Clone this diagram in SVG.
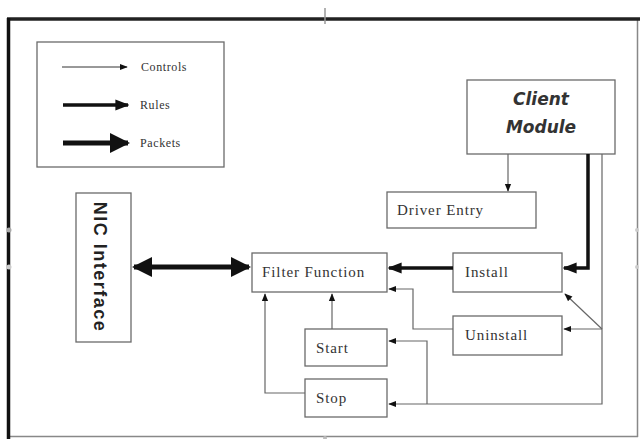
<svg xmlns="http://www.w3.org/2000/svg" width="640" height="439" viewBox="0 0 640 439">
<style>
.box{fill:#fff;stroke:#6a6a6a;stroke-width:1.3}
.t{font-family:"Liberation Serif",serif;font-size:15px;letter-spacing:0.9px;fill:#333}
.lg{font-family:"Liberation Serif",serif;font-size:12px;letter-spacing:0.6px;fill:#333}
.thin{fill:none;stroke:#666;stroke-width:1.2}
.rule{fill:none;stroke:#111;stroke-width:3.5}
.pkt{fill:none;stroke:#111;stroke-width:5}
</style>
<defs>
<marker id="a" viewBox="0 0 10 10" refX="9" refY="5" markerWidth="8" markerHeight="8" markerUnits="userSpaceOnUse" orient="auto"><path d="M0,1 L10,5 L0,9 z" fill="#111"/></marker>
<marker id="ar" viewBox="0 0 10 10" refX="9" refY="5" markerWidth="14" markerHeight="14" markerUnits="userSpaceOnUse" orient="auto"><path d="M0,1 L10,5 L0,9 z" fill="#111"/></marker>
<marker id="ap" viewBox="0 0 10 10" refX="9" refY="5" markerWidth="20" markerHeight="20" markerUnits="userSpaceOnUse" orient="auto-start-reverse"><path d="M0,0 L10,5 L0,10 z" fill="#111"/></marker>
</defs>
<rect width="640" height="439" fill="#fff"/>
<g id="frame">
<line x1="637.5" y1="19" x2="637.5" y2="437" stroke="#888" stroke-width="1.5"/>
<line x1="8" y1="436.5" x2="638" y2="436.5" stroke="#888" stroke-width="1.5"/>
<line x1="7" y1="19" x2="640" y2="19" stroke="#222" stroke-width="3.5"/>
<line x1="8.5" y1="18" x2="8.5" y2="439" stroke="#111" stroke-width="3.5"/>
<line x1="325" y1="8" x2="325" y2="24" stroke="#999" stroke-width="1.5"/>
<circle cx="9" cy="230" r="2.5" fill="#aaa"/>
<circle cx="9" cy="267" r="2.5" fill="#ccc"/>
<circle cx="637" cy="230" r="2" fill="#ccc"/>
<circle cx="637" cy="267" r="2" fill="#ccc"/>
<circle cx="325" cy="438" r="2" fill="#bbb"/>
</g>
<g id="legend">
<rect class="box" x="37" y="42" width="187" height="125"/>
<line x1="62" y1="67" x2="127" y2="67" stroke="#333" stroke-width="1" marker-end="url(#a)"/>
<text class="lg" x="141" y="71">Controls</text>
<line x1="63" y1="105" x2="128" y2="105" class="rule" marker-end="url(#ar)"/>
<text class="lg" x="140" y="109">Rules</text>
<line x1="63" y1="143" x2="128" y2="143" class="pkt" marker-end="url(#ap)"/>
<text class="lg" x="140" y="147">Packets</text>
</g>
<g id="client">
<rect class="box" x="467" y="80" width="148" height="74"/>
<text x="541" y="105" text-anchor="middle" font-family="DejaVu Sans,sans-serif" font-style="italic" font-weight="bold" font-size="17" fill="#333">Client</text>
<text x="541" y="133" text-anchor="middle" font-family="DejaVu Sans,sans-serif" font-style="italic" font-weight="bold" font-size="17" fill="#333">Module</text>
</g>
<g id="driver">
<rect class="box" x="387" y="192" width="149" height="36"/>
<text class="t" x="397" y="215">Driver Entry</text>
</g>
<g id="nic">
<rect class="box" x="76" y="193" width="55" height="149"/>
<text transform="translate(94,267) rotate(90)" text-anchor="middle" font-family="Liberation Sans,sans-serif" font-weight="bold" font-size="18" letter-spacing="1.5" fill="#222">NIC Interface</text>
</g>
<g id="filter">
<rect class="box" x="252" y="253" width="135" height="39"/>
<text class="t" x="262" y="277">Filter Function</text>
</g>
<g id="install">
<rect class="box" x="453" y="253" width="109" height="39"/>
<text class="t" x="465" y="277">Install</text>
</g>
<g id="uninstall">
<rect class="box" x="453" y="316" width="109" height="39"/>
<text class="t" x="465" y="340" fill="#4a2a2a">Uninstall</text>
</g>
<g id="start">
<rect class="box" x="305" y="329" width="82" height="37"/>
<text class="t" x="316" y="353">Start</text>
</g>
<g id="stop">
<rect class="box" x="305" y="379" width="82" height="38"/>
<text class="t" x="316" y="403">Stop</text>
</g>
<g id="connectors">
<line x1="134" y1="267" x2="249" y2="267" class="pkt" marker-start="url(#ap)" marker-end="url(#ap)"/>
<line x1="453" y1="268" x2="389" y2="268" class="rule" marker-end="url(#ar)"/>
<polyline points="588,154 588,268 564,268" class="rule" marker-end="url(#ar)"/>
<line x1="508" y1="154" x2="508" y2="191" class="thin" marker-end="url(#a)"/>
<polyline points="602,154 602,404 389,404" class="thin" marker-end="url(#a)"/>
<polyline points="427,404 427,341 389,341" class="thin" marker-end="url(#a)"/>
<line x1="602" y1="329" x2="564" y2="329" class="thin" marker-end="url(#a)"/>
<line x1="602" y1="329" x2="565" y2="294" class="thin" marker-end="url(#a)"/>
<polyline points="453,329 413,329 413,289 389,289" class="thin" marker-end="url(#a)"/>
<line x1="332" y1="329" x2="332" y2="294" class="thin" marker-end="url(#a)"/>
<polyline points="305,393 265,393 265,294" class="thin" marker-end="url(#a)"/>
</g>
</svg>
